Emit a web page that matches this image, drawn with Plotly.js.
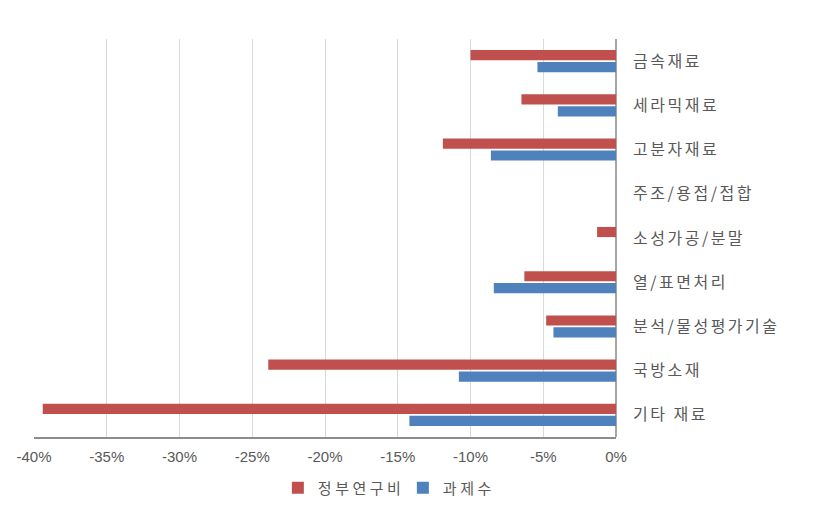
<!DOCTYPE html>
<html>
<head>
<meta charset="utf-8">
<script src="https://cdn.plot.ly/plotly-3.0.1.min.js"></script>
<style>
html,body{margin:0;padding:0;background:#fff;}
#chart{width:825px;height:512px;}
#chart .ytick text{letter-spacing:2.5px;}
#chart .legendtext{letter-spacing:3.5px;}
</style>
</head>
<body>
<div id="chart"></div>
<script>
const categories = ['금속재료', '세라믹재료', '고분자재료', '주조/용접/접합', '소성가공/분말', '열/표면처리', '분석/물성평가기술', '국방소재', '기타 재료'];
const fundingValues = [-10.0, -6.5, -11.9, 0, -1.3, -6.3, -4.8, -23.9, -39.4];
const projectValues = [-5.4, -4.0, -8.6, 0, 0, -8.4, -4.3, -10.8, -14.2];
const xTickVals = [-40, -35, -30, -25, -20, -15, -10, -5, 0];
const xTickText = ['-40%', '-35%', '-30%', '-25%', '-20%', '-15%', '-10%', '-5%', '0%'];
const seriesNames = ['정부연구비', '과제수'];

const traces = [
  {type: 'bar', orientation: 'h', name: seriesNames[0], y: categories, x: fundingValues,
   marker: {color: '#C0504D'}, hoverinfo: 'x+y'},
  {type: 'bar', orientation: 'h', name: seriesNames[1], y: categories, x: projectValues,
   marker: {color: '#4F81BD'}, hoverinfo: 'x+y'}
];

const layout = {
  width: 825, height: 512,
  margin: {l: 34, r: 209, t: 39, b: 75, autoexpand: false},
  paper_bgcolor: '#ffffff', plot_bgcolor: '#ffffff',
  barmode: 'group', bargap: 0.46, bargroupgap: 0.15,
  font: {family: '"Noto Sans CJK KR", "Noto Sans", sans-serif', color: '#595959'},
  xaxis: {
    range: [-40, 0], tickvals: xTickVals, ticktext: xTickText,
    showgrid: true, gridcolor: '#d9d9d9', gridwidth: 1,
    zeroline: true, zerolinecolor: '#a6a6a6', zerolinewidth: 1.5,
    showline: true, linecolor: '#8c8c8c', linewidth: 1.5,
    ticks: '', ticklabelstandoff: 5, fixedrange: true,
    tickfont: {family: '"Liberation Sans", sans-serif', size: 15, color: '#595959'}
  },
  yaxis: {
    type: 'category', autorange: 'reversed', side: 'right',
    showgrid: false, zeroline: false, showline: false, ticks: '',
    ticklabelstandoff: 16,
    tickfont: {family: '"Noto Sans CJK KR", sans-serif', size: 16, color: '#595959'}
  },
  legend: {
    orientation: 'h', x: 0.419, xanchor: 'left', y: -0.128, yanchor: 'middle',
    font: {family: '"Noto Sans CJK KR", sans-serif', size: 15, color: '#595959'},
    itemwidth: 30, entrywidth: 80, entrywidthmode: 'pixels', traceorder: 'normal'
  },
  showlegend: true
};

Plotly.newPlot('chart', traces, layout, {displayModeBar: false, staticPlot: true});
</script>
</body>
</html>
